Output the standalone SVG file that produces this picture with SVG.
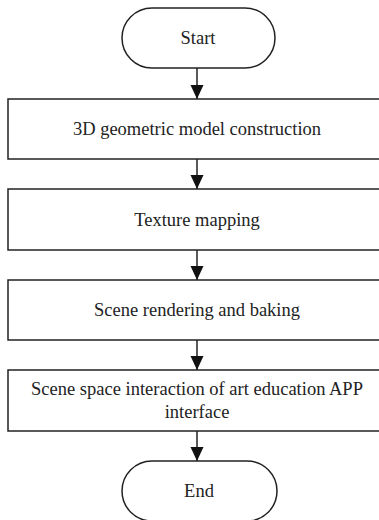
<svg xmlns="http://www.w3.org/2000/svg" width="379" height="520" viewBox="0 0 379 520">
<style>
.n{fill:#fff;stroke:#222;stroke-width:1.5}
.t{font-family:"Liberation Serif","Times New Roman",serif;font-size:18.5px;fill:#222;text-anchor:middle}
.c{stroke:#222;stroke-width:1.5;fill:none}
</style>
<defs>
<marker id="ah" markerUnits="userSpaceOnUse" markerWidth="14" markerHeight="14" refX="14" refY="6.5" orient="auto">
<path d="M0,0 L14,6.5 L0,13 Z" fill="#111"/>
</marker>
</defs>
<rect width="379" height="520" fill="#fff"/>
<g id="connectors">
<line class="c" x1="197" y1="68" x2="197" y2="99" marker-end="url(#ah)"/>
<line class="c" x1="197" y1="159" x2="197" y2="189" marker-end="url(#ah)"/>
<line class="c" x1="197" y1="250" x2="197" y2="280" marker-end="url(#ah)"/>
<line class="c" x1="197" y1="340" x2="197" y2="370" marker-end="url(#ah)"/>
<line class="c" x1="197" y1="431" x2="197" y2="461" marker-end="url(#ah)"/>
</g>
<g id="start">
<rect class="n" x="122" y="8" width="153" height="60" rx="30" ry="30"/>
<text class="t" x="198" y="44">Start</text>
</g>
<g id="step1">
<rect class="n" x="8" y="99" width="378" height="60"/>
<text class="t" x="197" y="135">3D geometric model construction</text>
</g>
<g id="step2">
<rect class="n" x="8" y="189" width="378" height="61"/>
<text class="t" x="197" y="226">Texture mapping</text>
</g>
<g id="step3">
<rect class="n" x="8" y="280" width="378" height="60"/>
<text class="t" x="197" y="316">Scene rendering and baking</text>
</g>
<g id="step4">
<rect class="n" x="8" y="370" width="378" height="61"/>
<text class="t" x="197" y="395">Scene space interaction of art education APP</text>
<text class="t" x="197" y="418">interface</text>
</g>
<g id="end">
<rect class="n" x="122" y="461" width="155" height="60" rx="30" ry="30"/>
<text class="t" x="199" y="497">End</text>
</g>
</svg>
